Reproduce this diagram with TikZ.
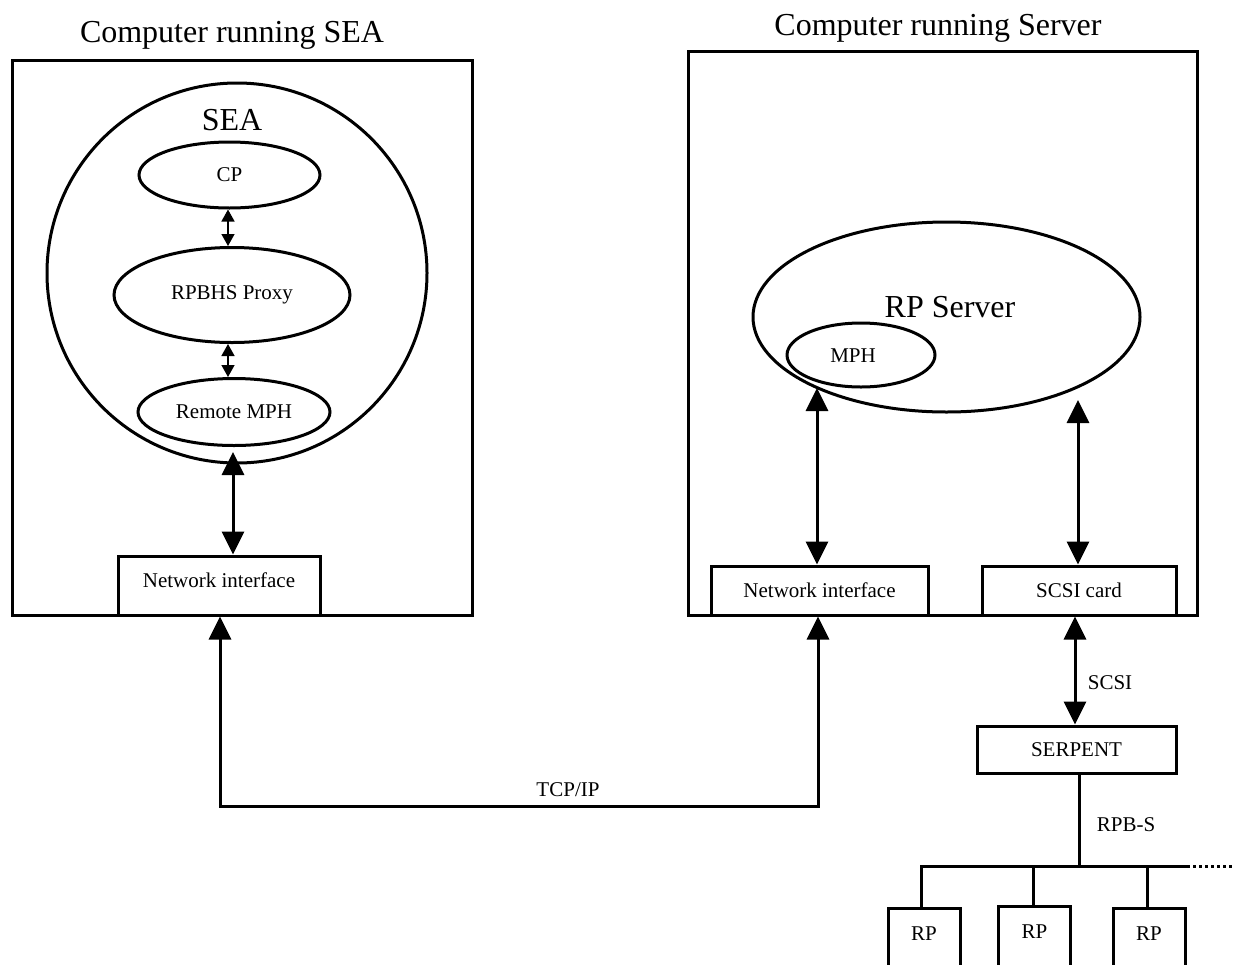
\documentclass[tikz,border=0pt]{standalone}
\usepackage{fontspec}
\setmainfont{Liberation Serif}
\usetikzlibrary{arrows.meta,shapes.geometric}
\newcommand\dgsmall{\fontsize{21}{25}\selectfont}
\newcommand\dgbig{\fontsize{32}{38}\selectfont}
\begin{document}
\begin{tikzpicture}[x=1pt,y=-1pt,
  every node/.style={inner sep=0pt,font=\dgsmall},
  heading/.style={font=\dgbig,anchor=base},
  tag/.style={anchor=base},
  frame/.style={draw,line width=3pt},
  blob/.style={draw,ellipse,line width=3pt},
  unit/.style={draw,fill=white,line width=3pt,text height=14pt,text depth=0pt},
  rpbox/.style={draw,fill=white,line width=3pt,minimum width=72pt,anchor=north,
                inner ysep=18pt,text height=14pt,text depth=40pt},
  wire/.style={line width=3pt},
  bigarr/.style={line width=3pt,
    {Triangle[width=22pt,length=23pt]}-{Triangle[width=22pt,length=23pt]}},
  smallarr/.style={line width=1.4pt,
    {Triangle[width=13pt,length=12pt]}-{Triangle[width=13pt,length=12pt]}}]
\useasboundingbox (0,0) rectangle (1233,964);
\clip (0,0) rectangle (1233,964);

% ---- left computer ----
\node[frame,minimum width=460pt,minimum height=555pt] (leftpc) at (242,337.5) {};
\node[heading] (leftttl) at (232,42) {Computer running SEA};
\node[blob,minimum width=380pt,minimum height=380pt] (sea) at (237,273) {};
\node[heading] (sealabel) at (232,130) {SEA};
\node[blob,minimum width=181pt,minimum height=66pt] (cp) at (229.5,175) {CP};
\node[blob,minimum width=236pt,minimum height=95pt] (rpbhs) at (232,295) {RPBHS Proxy};
\node[blob,minimum width=192pt,minimum height=67pt] (remote) at (234,412) {Remote MPH};
\node[unit,minimum width=202pt,minimum height=59pt,text depth=10pt] (nil) at (219,585.5) {Network interface};

\draw[smallarr] (cp.south -| 228,0) -- (228,0 |- rpbhs.north);
\draw[smallarr] (rpbhs.south -| 228,0) -- (228,0 |- remote.north);
\coordinate (seafoot) at (233,452);
\draw[bigarr] (seafoot) -- (seafoot |- nil.north);

% ---- right computer ----
\node[frame,minimum width=509pt,minimum height=564pt] (rightpc) at (942.5,333) {};
\node[heading] (rightttl) at (938,35) {Computer running Server};
\node[blob,minimum width=387pt,minimum height=190pt] (rps) at (946.5,317) {};
\node[heading] (rpslabel) at (950,317) {RP Server};
\node[blob,minimum width=148pt,minimum height=64pt] (mph) at (861,355) {};
\node[tag] (mphlabel) at (853,362) {MPH};
\node[unit,minimum width=217pt,minimum height=49pt] (nir) at (819.5,590.5) {Network interface};
\node[unit,minimum width=194pt,minimum height=49pt] (scsicard) at (1079,590.5) {SCSI card};

\coordinate (mphfoot) at (817,388);
\coordinate (rpsfoot) at (1078,400);
\draw[bigarr] (mphfoot) -- (mphfoot |- nir.north);
\draw[bigarr] (rpsfoot) -- (rpsfoot |- scsicard.north);

% ---- TCP/IP link ----
\coordinate (tcpy) at (0,806);
\draw[bigarr] (nil.south -| 220,0) -- (220,0 |- tcpy) -- (818,0 |- tcpy) -- (818,0 |- nir.south);
\node[tag] (tcplabel) at (568,796) {TCP/IP};

% ---- SERPENT and RP bus ----
\node[unit,minimum width=199pt,minimum height=47pt] (serpent) at (1076.5,749.5) {SERPENT};
\draw[bigarr] (1075,0 |- scsicard.south) -- (1075,0 |- serpent.north);
\node[tag] (scsilabel) at (1110,689) {SCSI};

\coordinate (busL) at (920,866);
\coordinate (busR) at (1187,866);
\coordinate (busEnd) at (1233,866);
\draw[wire] (serpent.south -| 1079,0) -- (1079,0 |- busL);
\node[tag] (rpblabel) at (1126,831) {RPB-S};
\draw[wire] (busL) -- (busR);
\draw[wire,dash pattern=on 3pt off 3pt] (busR) -- (busEnd);

\node[rpbox] (rp1) at (924,907) {RP};
\node[rpbox] (rp2) at (1034.5,905) {RP};
\node[rpbox] (rp3) at (1149,907) {RP};
\draw[wire] (921,0 |- busL) -- (921,0 |- rp1.north);
\draw[wire] (1033,0 |- busL) -- (1033,0 |- rp2.north);
\draw[wire] (1147,0 |- busL) -- (1147,0 |- rp3.north);
\end{tikzpicture}
\end{document}
